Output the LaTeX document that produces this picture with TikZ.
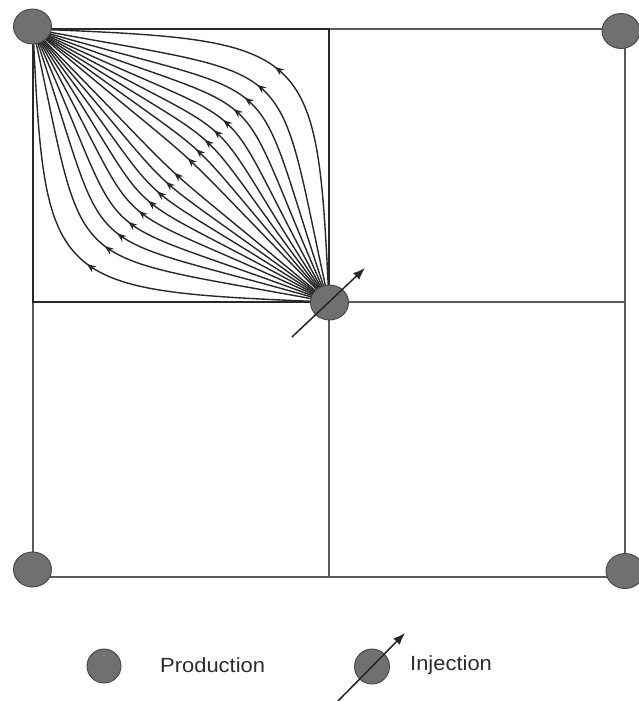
\documentclass[tikz,border=0pt]{standalone}
\usepackage{fontspec}
\setmainfont{Liberation Sans}
\usepackage{graphicx}
\usetikzlibrary{shapes.geometric,arrows.meta,decorations.markings}
\definecolor{wellfill}{RGB}{112,112,112}
\definecolor{welldraw}{RGB}{70,70,70}
\definecolor{gridcol}{RGB}{90,90,90}
\definecolor{streamcol}{RGB}{40,40,40}
\definecolor{textcol}{RGB}{45,45,45}
\tikzset{
  well/.style={ellipse,fill=wellfill,draw=welldraw,line width=0.9pt,minimum width=38pt,minimum height=35pt,inner sep=0pt},
  legwell/.style={circle,fill=wellfill,draw=welldraw,line width=0.9pt,minimum size=34pt,inner sep=0pt},
  gridline/.style={draw=gridcol,line width=1.3pt},
  boxline/.style={draw=streamcol,line width=1.7pt},
  stream/.style={draw=streamcol,line width=1.4pt,
    postaction={decorate},
    decoration={markings,mark=at position 0.5 with {\arrow{Stealth[length=9pt,width=7pt]}}}},
  injarrow/.style={draw=black!85,line width=1.5pt,-{Latex[length=12pt,width=9pt]}},
  legtext/.style={anchor=west,inner sep=0pt,text=textcol,font=\fontsize{20.5}{24}\selectfont}
}
\begin{document}
\begin{tikzpicture}[x=1pt,y=-1pt]
\useasboundingbox (0,0) rectangle (638,701);
\fill[white] (0,0) rectangle (638,701);
% grid corners
\coordinate (tl) at (33,29);
\coordinate (tm) at (329,29);
\coordinate (tr) at (625,29);
\coordinate (ml) at (33,302);
\coordinate (mm) at (329,302);
\coordinate (mr) at (625,302);
\coordinate (bl) at (33,577);
\coordinate (bm) at (329,577);
\coordinate (br) at (625,577);
% grid
\draw[gridline] (tl) -- (tr) -- (br) -- (bl) -- cycle;
\draw[gridline] (tm) -- (bm);
\draw[gridline] (ml) -- (mr);
\draw[boxline] (tl) -- (tm) -- (mm) -- (ml) -- cycle;
% streamlines (from injector to producer)
\foreach \t in {2.5,11.6,17.5,22.5,27.1,31.2,35,38.7,42.2,47.8,51.3,55,58.8,62.9,67.5,72.5,78.4,87.5}{
  \draw[stream] (mm) .. controls ({33+296*(1-0.95*sin(\t))},{29+273*(1-0.95*cos(\t))})
     and ({33+296*0.95*cos(\t)},{29+273*0.95*sin(\t)}) .. (tl);
}
% wells
\node[well] (p1) at (32.5,26.5) {};
\node[well] (p2) at (621,31) {};
\node[well] (p3) at (32.5,569.5) {};
\node[well] (p4) at (625,571) {};
\node[well] (inj) at (329.5,302.5) {};
\coordinate (ia) at (292,337);
\coordinate (ib) at (365,268);
\draw[injarrow] (ia) -- (ib);
% legend
\node[legwell] (lp) at (104,666) {};
\node[legtext] (lpt) at (160,665) {\scalebox{1.07}[1]{Production}};
\node[legwell,minimum size=35pt] (li) at (372,666.5) {};
\coordinate (la) at (338,701);
\coordinate (lb) at (405,633);
\draw[injarrow] (la) -- (lb);
\node[legtext] (lit) at (410,665) {\scalebox{1.07}[1]{Injection}};
\end{tikzpicture}
\end{document}
